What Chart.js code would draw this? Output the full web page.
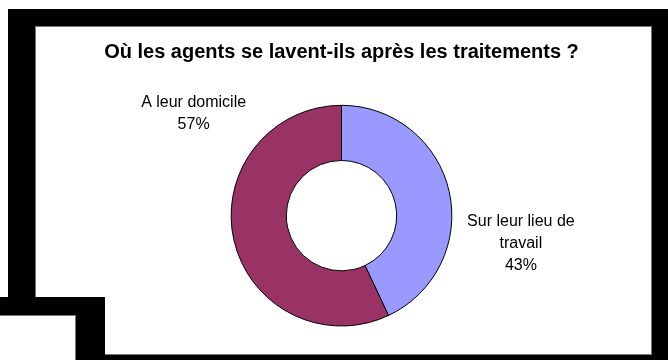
<!DOCTYPE html>
<html>
<head>
<meta charset="utf-8">
<script src="https://cdn.jsdelivr.net/npm/chart.js@4/dist/chart.umd.min.js"></script>
<style>
  html, body { margin: 0; padding: 0; background: #fff; }
  #page { position: relative; width: 668px; height: 360px; overflow: hidden; background: #fff; }
  .blk { position: absolute; background: #000; }
  .wht { position: absolute; background: #fff; }
  #plot { position: absolute; left: 35px; top: 26px; width: 617px; height: 329px; }
</style>
</head>
<body>
<div id="page">
  <div class="blk" style="left:8px;top:9px;width:660px;height:351px;"></div>
  <div class="wht" style="left:35px;top:26px;width:617px;height:329px;box-shadow:inset 1px 1px 0 #777, inset -1px -1px 0 #777;"></div>
  <div class="blk" style="left:0;top:297px;width:105px;height:63px;"></div>
  <div class="wht" style="left:0;top:315px;width:76px;height:45px;box-shadow:inset -1px 1px 0 #777;"></div>
  <div id="plot"><canvas id="chart" width="617" height="329"></canvas></div>
</div>
<script>
var categories = [['Sur leur lieu de', 'travail'], ['A leur domicile']];
var values = [43, 57];
var colors = ['#9999FF', '#993366'];

// where each slice label sits: angle clockwise from top (deg), distance in outer radii
var labelSpots = [{angle: 98.8, dist: 1.645}, {angle: 304.7, dist: 1.63}];

var sliceLabels = {
  id: 'sliceLabels',
  afterDatasetsDraw: function (chart, args, opts) {
    var ctx = chart.ctx;
    var meta = chart.getDatasetMeta(0);
    var total = values.reduce(function (a, b) { return a + b; }, 0);
    ctx.save();
    ctx.font = opts.font;
    ctx.fillStyle = '#000';
    ctx.textAlign = 'center';
    ctx.textBaseline = 'middle';
    meta.data.forEach(function (arc, i) {
      var spot = labelSpots[i];
      var a = spot.angle * Math.PI / 180;
      var r = arc.outerRadius * spot.dist;
      var cx = arc.x + Math.sin(a) * r;
      var cy = arc.y - Math.cos(a) * r;
      var lines = categories[i].concat([Math.round(values[i] / total * 100) + '%']);
      for (var j = 0; j < lines.length; j++) {
        ctx.fillText(lines[j], cx, cy + (j - (lines.length - 1) / 2) * opts.lineHeight);
      }
    });
    ctx.restore();
  }
};

new Chart(document.getElementById('chart').getContext('2d'), {
  type: 'doughnut',
  data: {
    labels: categories,
    datasets: [{
      data: values,
      backgroundColor: colors,
      borderColor: '#000',
      borderWidth: 1
    }]
  },
  options: {
    responsive: false,
    animation: false,
    cutout: '50%',
    rotation: 0,
    layout: { padding: { left: 0, right: 4, top: 0, bottom: 28.5 } },
    plugins: {
      legend: { display: false },
      tooltip: { enabled: false },
      title: {
        display: true,
        text: 'Où les agents se lavent-ils après les traitements ?',
        color: '#000',
        font: { family: '"Liberation Sans", Arial, sans-serif', size: 20, weight: 'bold' },
        padding: { top: 14, bottom: 40.8 }
      },
      sliceLabels: {
        font: '16px "Liberation Sans", Arial, sans-serif',
        lineHeight: 22
      }
    }
  },
  plugins: [sliceLabels]
});
</script>
</body>
</html>
